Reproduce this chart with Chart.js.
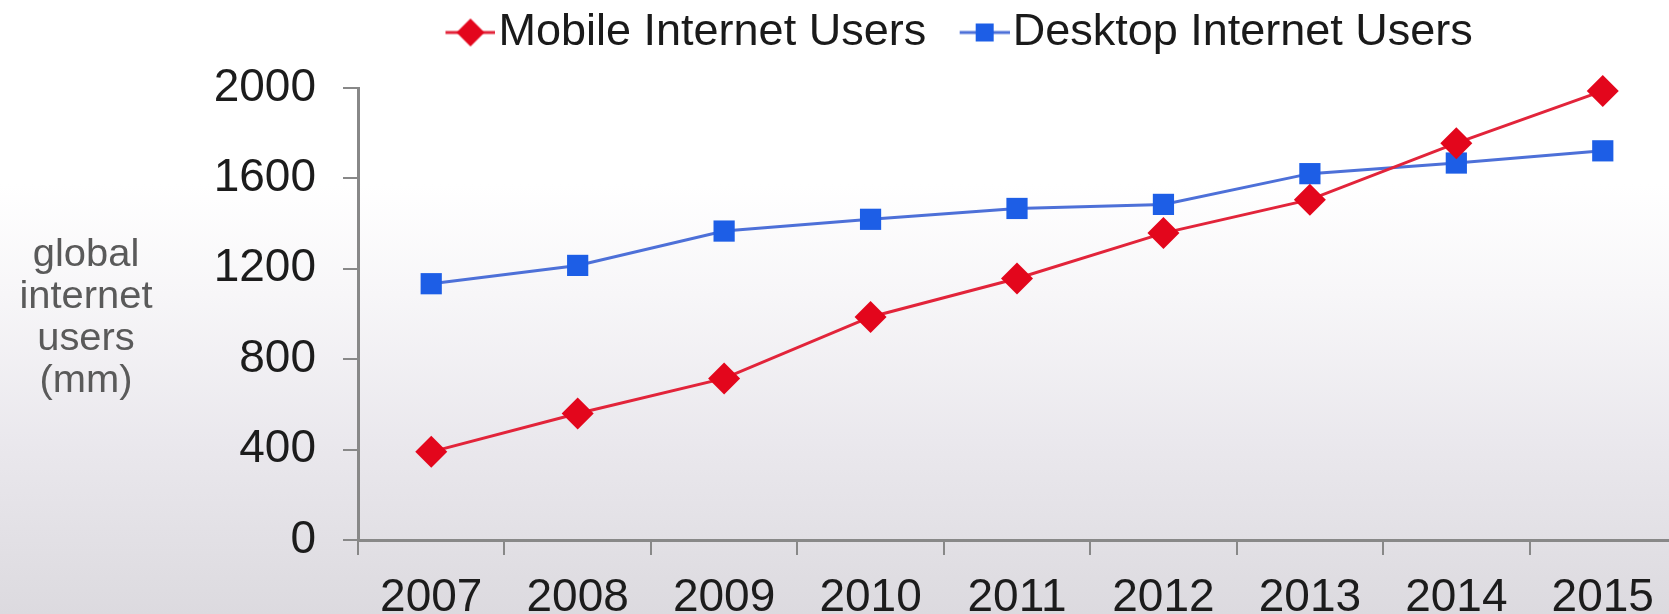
<!DOCTYPE html>
<html>
<head>
<meta charset="utf-8">
<script src="https://cdn.jsdelivr.net/npm/chart.js@4.4.1/dist/chart.umd.min.js"></script>
<style>
html, body { margin: 0; padding: 0; width: 1669px; height: 614px; overflow: hidden; }
body { background: linear-gradient(to bottom, #ffffff 0%, #ffffff 30%, #f7f6f8 48%, #eae8ed 72%, #dcdadf 100%); }
#wrap { position: absolute; left: 0; top: 0; width: 1692px; height: 614px; }
</style>
</head>
<body>
<div id="wrap"><canvas id="c"></canvas></div>
<script>
// ---- data ----
const years = ['2007', '2008', '2009', '2010', '2011', '2012', '2013', '2014', '2015'];
const mobileUsers = [390, 560, 715, 987, 1157, 1358, 1506, 1756, 1987];
const desktopUsers = [1134, 1215, 1367, 1419, 1467, 1485, 1621, 1668, 1722];
const seriesNames = ['Mobile Internet Users', 'Desktop Internet Users'];
const yMin = 0, yMax = 2000, yStep = 400;
const yTitleLines = ['global', 'internet', 'users', '(mm)'];

// ---- styles ----
const RED_LINE = '#e2243a', RED_MARK = '#e3061c';
const BLUE_LINE = '#4d70d8', BLUE_MARK = '#1d5ee6';
const AXIS = '#888888';
const FONT = '"Liberation Sans", Arial, Helvetica, sans-serif';

function legendMarker(kind, lineColor, fill) {
  const c = document.createElement('canvas');
  c.width = 93; c.height = 32;
  const g = c.getContext('2d');
  g.strokeStyle = lineColor; g.lineWidth = 3;
  g.beginPath(); g.moveTo(43, 16); g.lineTo(93, 16); g.stroke();
  g.fillStyle = fill;
  if (kind === 'diamond') {
    g.beginPath(); g.moveTo(68, 2); g.lineTo(82, 16); g.lineTo(68, 30); g.lineTo(54, 16); g.closePath(); g.fill();
  } else {
    g.fillRect(59, 7, 18, 18);
  }
  return c;
}
const legendImgs = [legendMarker('diamond', RED_LINE, RED_MARK), legendMarker('square', BLUE_LINE, BLUE_MARK)];

const LEGEND_SHIFT = 11.4;
const legendSpacer = {
  id: 'legendSpacer',
  beforeUpdate(chart) {
    const lg = chart.legend;
    if (lg && !lg._spaced) {
      const f = lg.fit;
      lg.fit = function () { f.call(this); this.height += 23; };
      lg._spaced = true;
    }
  },
  afterLayout(chart) {
    const lg = chart.legend;
    if (lg) { lg.left += LEGEND_SHIFT; lg.right += LEGEND_SHIFT; }
  }
};

const yTitlePlugin = {
  id: 'yTitle',
  afterDraw(chart) {
    const { ctx, chartArea } = chart;
    const mid = (chartArea.top + chartArea.bottom) / 2;
    ctx.save();
    ctx.font = '38px ' + FONT;
    ctx.fillStyle = '#5a5a5a';
    ctx.textAlign = 'center';
    ctx.textBaseline = 'alphabetic';
    yTitleLines.forEach((t, i) => {
      ctx.save();
      ctx.translate(86, mid - 48 + i * 42);
      ctx.scale(1.05, 1);
      ctx.fillText(t, 0, 0);
      ctx.restore();
    });
    ctx.restore();
  }
};

new Chart(document.getElementById('c'), {
  type: 'line',
  data: {
    labels: years,
    datasets: [
      {
        label: seriesNames[0], data: mobileUsers,
        borderColor: RED_LINE, borderWidth: 3,
        pointStyle: 'rectRot', pointRadius: 16, pointBackgroundColor: RED_MARK,
        pointBorderColor: RED_MARK, pointBorderWidth: 0, tension: 0, clip: false
      },
      {
        label: seriesNames[1], data: desktopUsers,
        borderColor: BLUE_LINE, borderWidth: 3,
        pointStyle: 'rect', pointRadius: 15, pointBackgroundColor: BLUE_MARK,
        pointBorderColor: BLUE_MARK, pointBorderWidth: 0, tension: 0, clip: false
      }
    ]
  },
  options: {
    responsive: true,
    maintainAspectRatio: false,
    animation: false,
    layout: { padding: { left: 180, right: 0, top: 0, bottom: 0 } },
    plugins: {
      tooltip: { enabled: false },
      legend: {
        display: true,
        position: 'top',
        align: 'center',
        labels: {
          usePointStyle: true,
          pointStyleWidth: 54,
          padding: 10,
          color: '#1a1a1a',
          font: { family: FONT, size: 45 },
          generateLabels(chart) {
            const items = Chart.defaults.plugins.legend.labels.generateLabels(chart);
            items.forEach((it, i) => { it.pointStyle = legendImgs[i]; });
            return items;
          }
        }
      }
    },
    scales: {
      x: {
        type: 'category',
        offset: true,
        afterFit(s) { s.height = 74; },
        border: { display: true, color: AXIS, width: 3 },
        grid: { display: true, offset: true, drawOnChartArea: false, drawTicks: true, tickLength: 15, color: AXIS, lineWidth: 2 },
        ticks: { color: '#1c1c1c', font: { family: FONT, size: 46 }, padding: 16, maxRotation: 0, autoSkip: false }
      },
      y: {
        min: yMin, max: yMax,
        afterFit(s) { s.width = 178; },
        border: { display: true, color: AXIS, width: 3 },
        grid: { display: true, drawOnChartArea: false, drawTicks: true, tickLength: 15, color: AXIS, lineWidth: 2 },
        ticks: { stepSize: yStep, color: '#1c1c1c', font: { family: FONT, size: 46 }, padding: 27, callback: v => String(v) }
      }
    }
  },
  plugins: [legendSpacer, yTitlePlugin]
});
</script>
</body>
</html>
